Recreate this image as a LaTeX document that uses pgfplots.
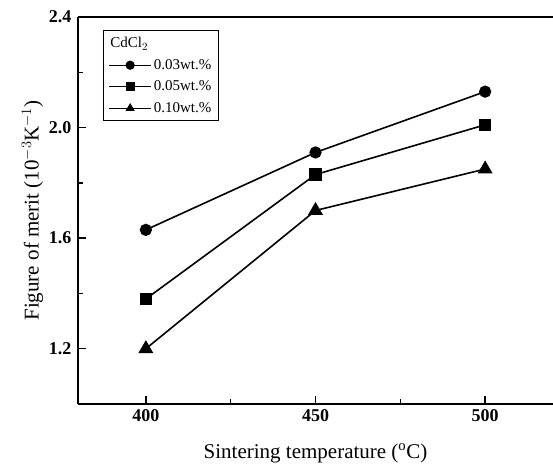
\documentclass[border=0pt]{standalone}
\usepackage{pgfplots}
\pgfplotsset{compat=1.18}
\usepackage{fontspec}
\setmainfont{Liberation Serif}
\begin{document}
\begin{tikzpicture}
\begin{axis}[
  at={(0,0)}, anchor=south west,
  scale only axis, width=475pt, height=387pt,
  xmin=380, xmax=520, ymin=1.0, ymax=2.4,
  axis lines*=left,
  axis line style={line width=1.6pt},
  xtick={400,450,500}, ytick={1.2,1.6,2.0,2.4},
  minor xtick={425,475}, minor ytick={1.4,1.8,2.2},
  tick style={line width=1.4pt, black},
  major tick length=8pt, minor tick length=5pt,
  tick align=inside,
  yticklabel style={/pgf/number format/fixed,/pgf/number format/fixed zerofill,/pgf/number format/precision=1, font=\fontsize{18}{18}\selectfont\bfseries, xshift=-3pt},
  xticklabel style={font=\fontsize{18}{18}\selectfont\bfseries, yshift=-2pt},
  /pgf/number format/assume math mode=true,
  xlabel={Sintering temperature ($^{\mathrm{o}}$C)},
  ylabel={Figure of merit (10$^{-3}$K$^{-1}$)},
  label style={font=\fontsize{21}{21}\selectfont},
  xlabel style={yshift=-15pt},
  ylabel style={yshift=-1pt},
  legend style={at={(rel axis cs:0.053,0.966)}, anchor=north west, draw=black, line width=0.8pt,
    font=\fontsize{15}{17}\selectfont, row sep=6pt, inner sep=5pt},
  legend cell align=left,
  legend image code/.code={\draw[mark repeat=2,mark phase=2,line width=1.2pt,mark size=4pt] plot coordinates {(0pt,0pt) (21pt,0pt) (42pt,0pt)};},
  every axis plot/.append style={line width=1.6pt, black},
  clip=false,
]
\addlegendimage{empty legend}
\addlegendentry{\hspace*{-46pt}CdCl$_2$}
\addplot[mark=*, mark size=5.3pt] coordinates {(400,1.63) (450,1.91) (500,2.13)};
\addlegendentry{0.03wt.\%}
\addplot[mark=square*, mark size=5.3pt] coordinates {(400,1.38) (450,1.83) (500,2.01)};
\addlegendentry{0.05wt.\%}
\addplot[mark=triangle*, mark size=7pt] coordinates {(400,1.20) (450,1.70) (500,1.85)};
\addlegendentry{0.10wt.\%}
\draw[line width=1.6pt] (rel axis cs:0,1) -- (rel axis cs:1,1);
\end{axis}
\pgfresetboundingbox
\path[use as bounding box] (-78pt,-68pt) rectangle (475pt,404pt);
\end{tikzpicture}
\end{document}
